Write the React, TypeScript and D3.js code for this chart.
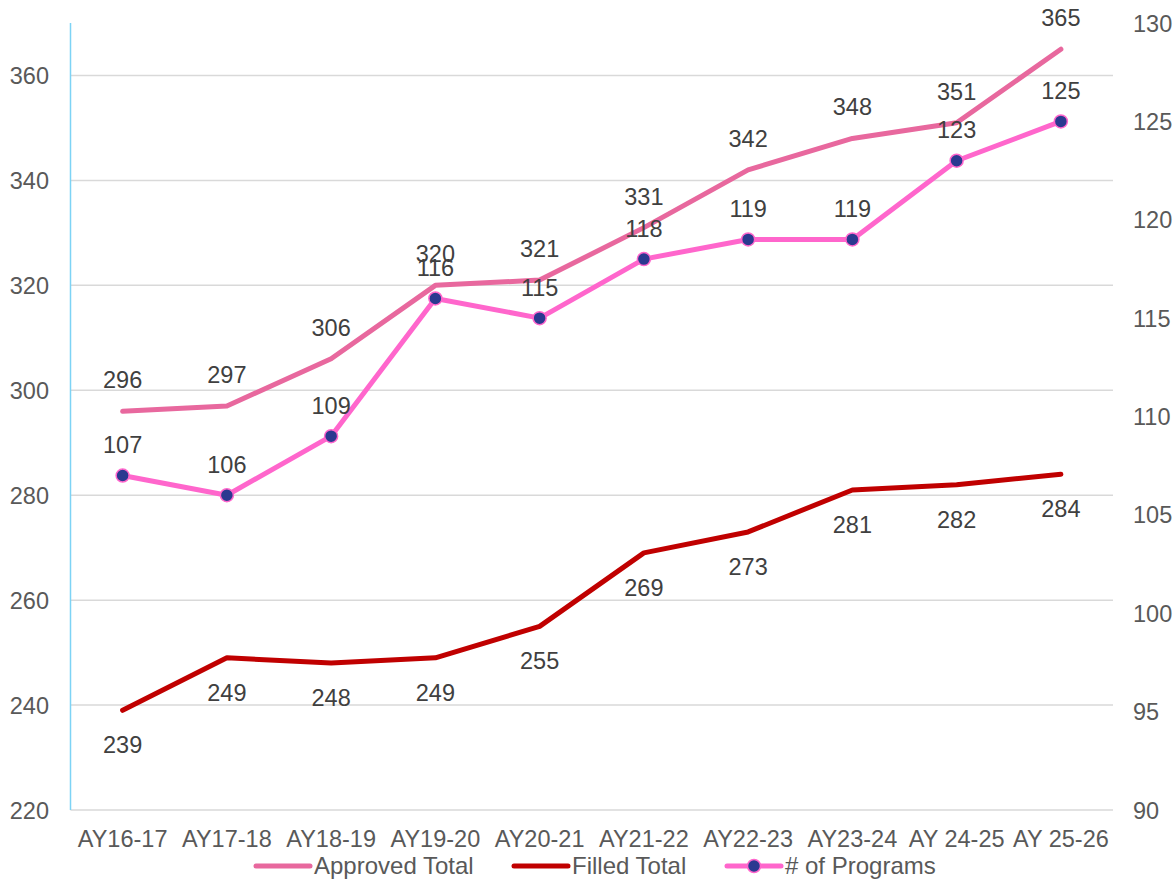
import React, { useRef, useEffect } from 'react';
import * as d3 from 'd3';

const years = ["AY16-17", "AY17-18", "AY18-19", "AY19-20", "AY20-21", "AY21-22", "AY22-23", "AY23-24", "AY 24-25", "AY 25-26"];
const approvedTotal = [296, 297, 306, 320, 321, 331, 342, 348, 351, 365];
const filledTotal = [239, 249, 248, 249, 255, 269, 273, 281, 282, 284];
const programs = [107, 106, 109, 116, 115, 118, 119, 119, 123, 125];
const leftTicks = [220, 240, 260, 280, 300, 320, 340, 360];
const rightTicks = [90, 95, 100, 105, 110, 115, 120, 125, 130];

const FONT = "'Liberation Sans', Arial, sans-serif";
const TEXT = "#595959";
const C_APPROVED = "#E8689E";
const C_FILLED = "#C00000";
const C_PROG = "#FF66CC";
const C_MARK = "#2B3990";
const FS = "23.5px";

export default function App() {
  const svgRef = useRef<SVGSVGElement>(null);

  useEffect(() => {
    const W = 1176, H = 879;
    const left = 70.5, right = 1113, top = 23, bottom = 810;

    const svg = d3.select(svgRef.current)
      .attr("width", W)
      .attr("height", H);
    svg.selectAll("*").remove();

    const x = d3.scaleBand().domain(years).range([left, right]);
    const cx = (i: number) => x(years[i])! + x.bandwidth() / 2;
    const yL = d3.scaleLinear().domain([220, 370]).range([bottom, top]);
    const yR = d3.scaleLinear().domain([90, 130]).range([bottom, top]);

    // gridlines
    svg.append("g").selectAll("line")
      .data(leftTicks)
      .enter().append("line")
      .attr("x1", left).attr("x2", right)
      .attr("y1", d => yL(d)).attr("y2", d => yL(d))
      .attr("stroke", "#D9D9D9").attr("stroke-width", 1.5);

    // left axis line
    svg.append("line")
      .attr("x1", left).attr("x2", left)
      .attr("y1", top).attr("y2", bottom)
      .attr("stroke", "#7DD3F5").attr("stroke-width", 1.5);

    // left tick labels
    svg.append("g").selectAll("text")
      .data(leftTicks)
      .enter().append("text")
      .attr("x", 49).attr("y", d => yL(d) + 8.5)
      .attr("text-anchor", "end")
      .style("font-family", FONT).style("font-size", FS).attr("fill", TEXT)
      .text(d => d);

    // right tick labels
    svg.append("g").selectAll("text")
      .data(rightTicks)
      .enter().append("text")
      .attr("x", 1133).attr("y", d => yR(d) + 8.5)
      .style("font-family", FONT).style("font-size", FS).attr("fill", TEXT)
      .text(d => d);

    // x labels
    svg.append("g").selectAll("text")
      .data(years)
      .enter().append("text")
      .attr("x", (d, i) => cx(i)).attr("y", 847)
      .attr("text-anchor", "middle")
      .style("font-family", FONT).style("font-size", FS).attr("fill", TEXT)
      .text(d => d);

    const lineL = d3.line<number>().x((d, i) => cx(i)).y(d => yL(d));
    const lineR = d3.line<number>().x((d, i) => cx(i)).y(d => yR(d));

    svg.append("path").datum(approvedTotal)
      .attr("d", lineL).attr("fill", "none")
      .attr("stroke", C_APPROVED).attr("stroke-width", 5).attr("stroke-linecap", "round").attr("stroke-linejoin", "round");
    svg.append("path").datum(filledTotal)
      .attr("d", lineL).attr("fill", "none")
      .attr("stroke", C_FILLED).attr("stroke-width", 5).attr("stroke-linecap", "round").attr("stroke-linejoin", "round");
    svg.append("path").datum(programs)
      .attr("d", lineR).attr("fill", "none")
      .attr("stroke", C_PROG).attr("stroke-width", 5).attr("stroke-linecap", "round").attr("stroke-linejoin", "round");

    svg.append("g").selectAll("circle")
      .data(programs)
      .enter().append("circle")
      .attr("cx", (d, i) => cx(i)).attr("cy", d => yR(d))
      .attr("r", 6.5)
      .attr("fill", C_MARK).attr("stroke", C_PROG).attr("stroke-width", 1.5);

    // data labels
    const label = (data: number[], y: (v: number) => number, dy: number) => {
      svg.append("g").selectAll("text")
        .data(data)
        .enter().append("text")
        .attr("x", (d, i) => cx(i)).attr("y", d => y(d) + dy)
        .attr("text-anchor", "middle")
        .style("font-family", FONT).style("font-size", FS).attr("fill", "#404040")
        .text(d => d);
    };
    label(approvedTotal, yL, -23);
    label(filledTotal, yL, 43);
    label(programs, yR, -22.5);

    // legend
    const legend = [
      { name: "Approved Total", color: C_APPROVED, x: 256, marker: false },
      { name: "Filled Total", color: C_FILLED, x: 514, marker: false },
      { name: "# of Programs", color: C_PROG, x: 727, marker: true },
    ];
    const lg = svg.append("g");
    legend.forEach(l => {
      lg.append("line")
        .attr("x1", l.x).attr("x2", l.x + 54)
        .attr("y1", 866).attr("y2", 866)
        .attr("stroke", l.color).attr("stroke-width", 5).attr("stroke-linecap", "round");
      if (l.marker) {
        lg.append("circle")
          .attr("cx", l.x + 27).attr("cy", 866).attr("r", 6.5)
          .attr("fill", C_MARK).attr("stroke", C_PROG).attr("stroke-width", 1.5);
      }
      lg.append("text")
        .attr("x", l.x + 58).attr("y", 874)
        .style("font-family", FONT).style("font-size", "24px").attr("fill", TEXT)
        .text(l.name);
    });
  }, []);

  return (
    <svg ref={svgRef} style={{ position: "absolute", left: 0, top: 0 }}></svg>
  );
}
